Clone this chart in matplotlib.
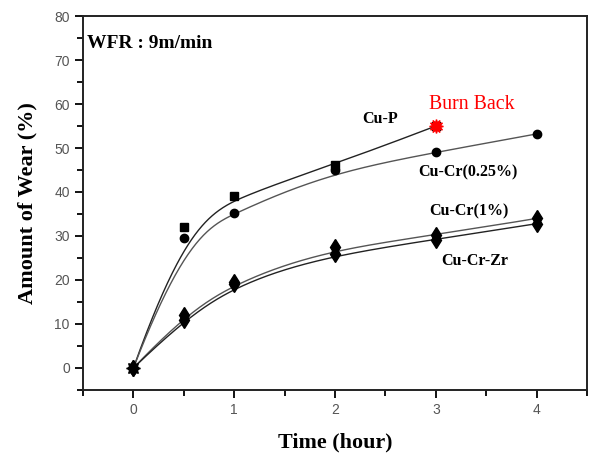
import numpy as np
import matplotlib
matplotlib.use('Agg')
import matplotlib.pyplot as plt

# wear data, hours vs %
time_cup = [0, 0.5, 1, 2, 3]
wear_cup = [0, 32, 39.2, 46.2, 55]
time_cr025 = [0, 0.5, 1, 2, 3, 4]
wear_cr025 = [0, 29.5, 35.2, 45, 49, 53.2]
time_cr1 = [0, 0.5, 1, 2, 3, 4]
wear_cr1 = [0, 12, 19.6, 27.4, 30.2, 34]
time_crzr = [0, 0.5, 1, 2, 3, 4]
wear_crzr = [0, 11, 19.1, 26, 29.2, 32.8]

burn_time = [3]
burn_wear = [55]


def bspline(xs, ys, n=300, k=3):
    """Clamped uniform B-spline through the data used as control points."""
    pts = np.column_stack([xs, ys]).astype(float)
    m = len(pts)
    inner = np.linspace(0, 1, m - k + 1)[1:-1]
    knots = np.concatenate([np.zeros(k + 1), inner, np.ones(k + 1)])
    u = np.linspace(0, 1, n)
    u[-1] -= 1e-9
    # Cox-de Boor recursion
    B = np.array([((knots[i] <= u) & (u < knots[i + 1])).astype(float)
                  for i in range(len(knots) - 1)])
    for d in range(1, k + 1):
        Bn = np.zeros((len(knots) - 1 - d, n))
        for i in range(len(knots) - 1 - d):
            a = knots[i + d] - knots[i]
            b = knots[i + d + 1] - knots[i + 1]
            if a > 0:
                Bn[i] += (u - knots[i]) / a * B[i]
            if b > 0:
                Bn[i] += (knots[i + d + 1] - u) / b * B[i + 1]
        B = Bn
    curve = B.T @ pts
    return curve[:, 0], curve[:, 1]


fig = plt.figure(figsize=(5.9, 4.55), dpi=100)
ax = fig.add_axes([0.1407, 0.1429, 0.8543, 0.8219])

series = [
    (time_cup, wear_cup, 's', 6, '#222222'),
    (time_cr025, wear_cr025, 'o', 6, '#555555'),
    (time_cr1, wear_cr1, 'd', 8, '#555555'),
    (time_crzr, wear_crzr, 'd', 8, '#222222'),
]
for xs, ys, mk, ms, lc in series:
    cx, cy = bspline(xs, ys)
    ax.plot(cx, cy, color=lc, lw=1.0, zorder=2)
    ax.plot(xs, ys, ls='none', marker=mk, ms=ms, color='black', zorder=3)

# Cu-P endpoint where burn back happened
ax.plot(burn_time, burn_wear, ls='none', marker=(12, 1, 0), ms=10,
        color='red', mec='red', zorder=4)
ax.plot([0], [0], ls='none', marker=(8, 1, 0), ms=10, color='black', zorder=4)

serif = 'Liberation Serif'
ax.text(3.36, 60.0, 'Burn Back', color='red', fontsize=14.3, family=serif,
        ha='center', va='center')
ax.text(2.45, 56.6, 'Cu-P', fontsize=11.5, family=serif, weight='bold',
        ha='center', va='center')
ax.text(3.32, 44.5, 'Cu-Cr(0.25%)', fontsize=11.5, family=serif, weight='bold',
        ha='center', va='center')
ax.text(3.33, 35.7, 'Cu-Cr(1%)', fontsize=11.5, family=serif, weight='bold',
        ha='center', va='center')
ax.text(3.39, 24.3, 'Cu-Cr-Zr', fontsize=11.5, family=serif, weight='bold',
        ha='center', va='center')
ax.text(-0.46, 73.8, 'WFR : 9m/min', fontsize=14, family=serif,
        weight='bold', ha='left', va='center')

ax.set_xlim(-0.5, 4.5)
ax.set_ylim(-5, 80)
ax.set_xticks([0, 1, 2, 3, 4])
ax.set_xticks(np.arange(-0.5, 4.6, 1), minor=True)
ax.set_yticks(np.arange(0, 81, 10))
ax.set_yticks(np.arange(-5, 81, 10), minor=True)
ax.tick_params(which='major', direction='out', length=6, width=1.3,
               labelsize=10, labelcolor='#555555', top=False, right=False)
ax.tick_params(which='minor', direction='out', length=4, width=1.3,
               top=False, right=False)
for lab in ax.get_xticklabels() + ax.get_yticklabels():
    lab.set_family('Liberation Sans')
for sp in ax.spines.values():
    sp.set_linewidth(1.4)
    sp.set_color('#222222')

ax.set_xlabel('Time (hour)', family=serif, weight='bold', fontsize=15.8,
              labelpad=11)
ax.set_ylabel('Amount of Wear (%)', family=serif, weight='bold', fontsize=16,
              labelpad=12)

fig.savefig('out.png', dpi=100)
